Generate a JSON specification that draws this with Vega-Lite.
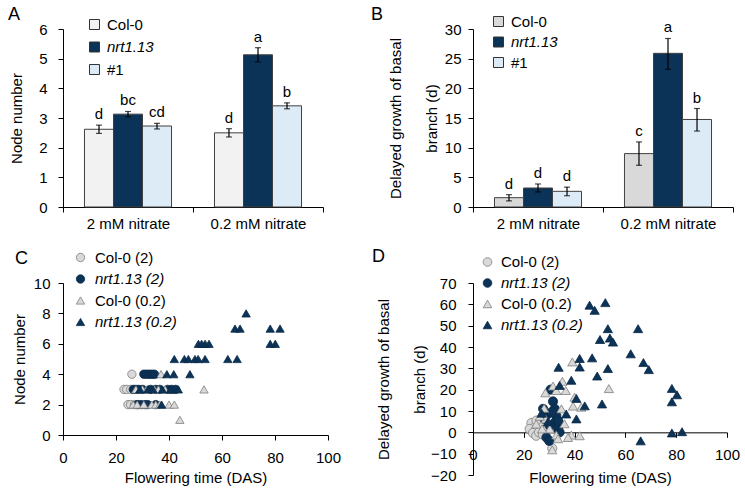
{
  "$schema": "https://vega.github.io/schema/vega-lite/v6.json",
  "background": "white",
  "padding": {"left": 8, "top": 5, "right": 5, "bottom": 20},
  "columns": 2,
  "bounds": "flush",
  "align": "each",
  "spacing": {"row": 76, "column": 145},
  "config": {
    "font": "Liberation Sans",
    "view": {"stroke": null},
    "axis": {"labelFont": "Liberation Sans", "labelFontSize": 15, "labelColor": "#000", "titleFont": "Liberation Sans", "titleFontSize": 15, "titleFontWeight": "normal", "titleColor": "#000", "domainColor": "#000", "tickColor": "#000", "grid": false, "tickSize": 5, "labelOverlap": false, "labelFlush": false},
    "legend": {"labelFont": "Liberation Sans", "labelFontSize": 15, "labelColor": "#000", "padding": 0},
    "title": {"font": "Liberation Sans", "fontSize": 18, "fontWeight": "normal", "anchor": "start", "frame": "group", "color": "#000", "baseline": "alphabetic"}
  },
  "datasets": {
    "barsA": [
      {"cond": "2 mM nitrate", "geno": "Col-0", "mean": 2.62, "lo": 2.48, "hi": 2.76, "letter": "d"},
      {"cond": "2 mM nitrate", "geno": "nrt1.13", "mean": 3.13, "lo": 3.04, "hi": 3.22, "letter": "bc"},
      {"cond": "2 mM nitrate", "geno": "#1", "mean": 2.73, "lo": 2.63, "hi": 2.82, "letter": "cd"},
      {"cond": "0.2 mM nitrate", "geno": "Col-0", "mean": 2.5, "lo": 2.36, "hi": 2.64, "letter": "d"},
      {"cond": "0.2 mM nitrate", "geno": "nrt1.13", "mean": 5.13, "lo": 4.89, "hi": 5.37, "letter": "a"},
      {"cond": "0.2 mM nitrate", "geno": "#1", "mean": 3.41, "lo": 3.31, "hi": 3.51, "letter": "b"}
    ],
    "barsB": [
      {"cond": "2 mM nitrate", "geno": "Col-0", "mean": 1.57, "lo": 1.03, "hi": 2.08, "letter": "d"},
      {"cond": "2 mM nitrate", "geno": "nrt1.13", "mean": 3.2, "lo": 2.53, "hi": 3.88, "letter": "d"},
      {"cond": "2 mM nitrate", "geno": "#1", "mean": 2.64, "lo": 1.9, "hi": 3.35, "letter": "d"},
      {"cond": "0.2 mM nitrate", "geno": "Col-0", "mean": 9.0, "lo": 7.03, "hi": 10.97, "letter": "c"},
      {"cond": "0.2 mM nitrate", "geno": "nrt1.13", "mean": 25.9, "lo": 23.2, "hi": 28.4, "letter": "a"},
      {"cond": "0.2 mM nitrate", "geno": "#1", "mean": 14.75, "lo": 12.8, "hi": 16.6, "letter": "b"}
    ],
    "scC": [
      {"ft": 26, "v": 4, "group": "Col-0 (2)"},
      {"ft": 23, "v": 3, "group": "Col-0 (2)"},
      {"ft": 24, "v": 3, "group": "Col-0 (2)"},
      {"ft": 25.5, "v": 3, "group": "Col-0 (2)"},
      {"ft": 24.5, "v": 2, "group": "Col-0 (2)"},
      {"ft": 25.5, "v": 2, "group": "Col-0 (2)"},
      {"ft": 27, "v": 2, "group": "Col-0 (2)"},
      {"ft": 28.5, "v": 2, "group": "Col-0 (2)"},
      {"ft": 30.5, "v": 4, "group": "nrt1.13 (2)"},
      {"ft": 31.5, "v": 4, "group": "nrt1.13 (2)"},
      {"ft": 32.5, "v": 4, "group": "nrt1.13 (2)"},
      {"ft": 33.5, "v": 4, "group": "nrt1.13 (2)"},
      {"ft": 34.5, "v": 4, "group": "nrt1.13 (2)"},
      {"ft": 26.5, "v": 3, "group": "nrt1.13 (2)"},
      {"ft": 27.5, "v": 3, "group": "nrt1.13 (2)"},
      {"ft": 28.5, "v": 3, "group": "nrt1.13 (2)"},
      {"ft": 30, "v": 3, "group": "nrt1.13 (2)"},
      {"ft": 33, "v": 3, "group": "nrt1.13 (2)"},
      {"ft": 35, "v": 3, "group": "nrt1.13 (2)"},
      {"ft": 36.5, "v": 3, "group": "nrt1.13 (2)"},
      {"ft": 39.5, "v": 3, "group": "nrt1.13 (2)"},
      {"ft": 41, "v": 3, "group": "nrt1.13 (2)"},
      {"ft": 42.5, "v": 3, "group": "nrt1.13 (2)"},
      {"ft": 28, "v": 2, "group": "nrt1.13 (2)"},
      {"ft": 29.5, "v": 2, "group": "nrt1.13 (2)"},
      {"ft": 31, "v": 2, "group": "nrt1.13 (2)"},
      {"ft": 32, "v": 2, "group": "nrt1.13 (2)"},
      {"ft": 35, "v": 2, "group": "nrt1.13 (2)"},
      {"ft": 37, "v": 4, "group": "Col-0 (0.2)"},
      {"ft": 27.5, "v": 3, "group": "Col-0 (0.2)"},
      {"ft": 30, "v": 3, "group": "Col-0 (0.2)"},
      {"ft": 31.5, "v": 3, "group": "Col-0 (0.2)"},
      {"ft": 34.5, "v": 3, "group": "Col-0 (0.2)"},
      {"ft": 36, "v": 3, "group": "Col-0 (0.2)"},
      {"ft": 38.5, "v": 3, "group": "Col-0 (0.2)"},
      {"ft": 53.2, "v": 3, "group": "Col-0 (0.2)"},
      {"ft": 26.5, "v": 2, "group": "Col-0 (0.2)"},
      {"ft": 28, "v": 2, "group": "Col-0 (0.2)"},
      {"ft": 30.5, "v": 2, "group": "Col-0 (0.2)"},
      {"ft": 33.5, "v": 2, "group": "Col-0 (0.2)"},
      {"ft": 35, "v": 2, "group": "Col-0 (0.2)"},
      {"ft": 36.5, "v": 2, "group": "Col-0 (0.2)"},
      {"ft": 40, "v": 2, "group": "Col-0 (0.2)"},
      {"ft": 42, "v": 2, "group": "Col-0 (0.2)"},
      {"ft": 44.1, "v": 1, "group": "Col-0 (0.2)"},
      {"ft": 34, "v": 4, "group": "nrt1.13 (0.2)"},
      {"ft": 39.2, "v": 4, "group": "nrt1.13 (0.2)"},
      {"ft": 41.8, "v": 4, "group": "nrt1.13 (0.2)"},
      {"ft": 47.9, "v": 4, "group": "nrt1.13 (0.2)"},
      {"ft": 29, "v": 3, "group": "nrt1.13 (0.2)"},
      {"ft": 32, "v": 3, "group": "nrt1.13 (0.2)"},
      {"ft": 34, "v": 3, "group": "nrt1.13 (0.2)"},
      {"ft": 37.5, "v": 3, "group": "nrt1.13 (0.2)"},
      {"ft": 40.5, "v": 3, "group": "nrt1.13 (0.2)"},
      {"ft": 43.5, "v": 3, "group": "nrt1.13 (0.2)"},
      {"ft": 37.2, "v": 2, "group": "nrt1.13 (0.2)"},
      {"ft": 42, "v": 5, "group": "nrt1.13 (0.2)"},
      {"ft": 45.8, "v": 5, "group": "nrt1.13 (0.2)"},
      {"ft": 47.3, "v": 5, "group": "nrt1.13 (0.2)"},
      {"ft": 49.8, "v": 5, "group": "nrt1.13 (0.2)"},
      {"ft": 51, "v": 5, "group": "nrt1.13 (0.2)"},
      {"ft": 53.6, "v": 5, "group": "nrt1.13 (0.2)"},
      {"ft": 62.2, "v": 5, "group": "nrt1.13 (0.2)"},
      {"ft": 65.7, "v": 5, "group": "nrt1.13 (0.2)"},
      {"ft": 51.1, "v": 6, "group": "nrt1.13 (0.2)"},
      {"ft": 52.3, "v": 6, "group": "nrt1.13 (0.2)"},
      {"ft": 53.6, "v": 6, "group": "nrt1.13 (0.2)"},
      {"ft": 55.1, "v": 6, "group": "nrt1.13 (0.2)"},
      {"ft": 78.2, "v": 6, "group": "nrt1.13 (0.2)"},
      {"ft": 80.1, "v": 6, "group": "nrt1.13 (0.2)"},
      {"ft": 64.9, "v": 7, "group": "nrt1.13 (0.2)"},
      {"ft": 66.8, "v": 7, "group": "nrt1.13 (0.2)"},
      {"ft": 78.2, "v": 7, "group": "nrt1.13 (0.2)"},
      {"ft": 81.9, "v": 7, "group": "nrt1.13 (0.2)"},
      {"ft": 69.1, "v": 8, "group": "nrt1.13 (0.2)"}
    ],
    "scD": [
      {"ft": 23, "v": 4.4, "group": "Col-0 (2)"},
      {"ft": 24.3, "v": 2.4, "group": "Col-0 (2)"},
      {"ft": 22.3, "v": 1.6, "group": "Col-0 (2)"},
      {"ft": 25.6, "v": 0.8, "group": "Col-0 (2)"},
      {"ft": 23.6, "v": -0.3, "group": "Col-0 (2)"},
      {"ft": 26.9, "v": 3.1, "group": "Col-0 (2)"},
      {"ft": 28.6, "v": 0.8, "group": "Col-0 (2)"},
      {"ft": 31.2, "v": -7.5, "group": "Col-0 (2)"},
      {"ft": 24.9, "v": -1.6, "group": "Col-0 (2)"},
      {"ft": 26, "v": 0, "group": "Col-0 (2)"},
      {"ft": 27.5, "v": -1, "group": "Col-0 (2)"},
      {"ft": 25, "v": 5.5, "group": "Col-0 (2)"},
      {"ft": 30.5, "v": 20, "group": "nrt1.13 (2)"},
      {"ft": 31.5, "v": 14.5, "group": "nrt1.13 (2)"},
      {"ft": 32.2, "v": 11, "group": "nrt1.13 (2)"},
      {"ft": 27.6, "v": 11, "group": "nrt1.13 (2)"},
      {"ft": 29.5, "v": 8.6, "group": "nrt1.13 (2)"},
      {"ft": 32.8, "v": 7.8, "group": "nrt1.13 (2)"},
      {"ft": 28.2, "v": 6.3, "group": "nrt1.13 (2)"},
      {"ft": 32.2, "v": 4.7, "group": "nrt1.13 (2)"},
      {"ft": 34.1, "v": 3.9, "group": "nrt1.13 (2)"},
      {"ft": 30.2, "v": 3.1, "group": "nrt1.13 (2)"},
      {"ft": 33.5, "v": 1.6, "group": "nrt1.13 (2)"},
      {"ft": 34.1, "v": 0, "group": "nrt1.13 (2)"},
      {"ft": 28.9, "v": -2.4, "group": "nrt1.13 (2)"},
      {"ft": 30, "v": -4, "group": "nrt1.13 (2)"},
      {"ft": 31, "v": 9.5, "group": "nrt1.13 (2)"},
      {"ft": 33.5, "v": 5.5, "group": "nrt1.13 (2)"},
      {"ft": 39.1, "v": 33, "group": "Col-0 (0.2)"},
      {"ft": 35.2, "v": 23.9, "group": "Col-0 (0.2)"},
      {"ft": 31.5, "v": 21.7, "group": "Col-0 (0.2)"},
      {"ft": 32.8, "v": 19.6, "group": "Col-0 (0.2)"},
      {"ft": 36.5, "v": 19.6, "group": "Col-0 (0.2)"},
      {"ft": 28.5, "v": 18.5, "group": "Col-0 (0.2)"},
      {"ft": 40, "v": 16.5, "group": "Col-0 (0.2)"},
      {"ft": 39.4, "v": 12.3, "group": "Col-0 (0.2)"},
      {"ft": 42.6, "v": 11.8, "group": "Col-0 (0.2)"},
      {"ft": 34.8, "v": 11, "group": "Col-0 (0.2)"},
      {"ft": 28, "v": 11.3, "group": "Col-0 (0.2)"},
      {"ft": 28.6, "v": 6.3, "group": "Col-0 (0.2)"},
      {"ft": 26.3, "v": 7.5, "group": "Col-0 (0.2)"},
      {"ft": 24.9, "v": 3.9, "group": "Col-0 (0.2)"},
      {"ft": 38.7, "v": -1.3, "group": "Col-0 (0.2)"},
      {"ft": 42, "v": -1.6, "group": "Col-0 (0.2)"},
      {"ft": 37.4, "v": -2.4, "group": "Col-0 (0.2)"},
      {"ft": 32.8, "v": -1.3, "group": "Col-0 (0.2)"},
      {"ft": 30.2, "v": 1.6, "group": "Col-0 (0.2)"},
      {"ft": 27.2, "v": 1.6, "group": "Col-0 (0.2)"},
      {"ft": 31.2, "v": -8.2, "group": "Col-0 (0.2)"},
      {"ft": 53.5, "v": 20.5, "group": "Col-0 (0.2)"},
      {"ft": 36, "v": 4, "group": "Col-0 (0.2)"},
      {"ft": 33.5, "v": -3, "group": "Col-0 (0.2)"},
      {"ft": 45.9, "v": 59.6, "group": "nrt1.13 (0.2)"},
      {"ft": 47.9, "v": 57.2, "group": "nrt1.13 (0.2)"},
      {"ft": 52.1, "v": 60.8, "group": "nrt1.13 (0.2)"},
      {"ft": 53.1, "v": 48.6, "group": "nrt1.13 (0.2)"},
      {"ft": 65, "v": 48.6, "group": "nrt1.13 (0.2)"},
      {"ft": 50, "v": 43.5, "group": "nrt1.13 (0.2)"},
      {"ft": 53.9, "v": 44.2, "group": "nrt1.13 (0.2)"},
      {"ft": 55.1, "v": 42.3, "group": "nrt1.13 (0.2)"},
      {"ft": 62.1, "v": 36.8, "group": "nrt1.13 (0.2)"},
      {"ft": 67.1, "v": 32.7, "group": "nrt1.13 (0.2)"},
      {"ft": 69.2, "v": 29.4, "group": "nrt1.13 (0.2)"},
      {"ft": 42, "v": 34.6, "group": "nrt1.13 (0.2)"},
      {"ft": 46.9, "v": 34.9, "group": "nrt1.13 (0.2)"},
      {"ft": 42, "v": 30.6, "group": "nrt1.13 (0.2)"},
      {"ft": 53.1, "v": 29.9, "group": "nrt1.13 (0.2)"},
      {"ft": 48.9, "v": 26.4, "group": "nrt1.13 (0.2)"},
      {"ft": 78.3, "v": 20.6, "group": "nrt1.13 (0.2)"},
      {"ft": 80.3, "v": 17.6, "group": "nrt1.13 (0.2)"},
      {"ft": 78.3, "v": 14.3, "group": "nrt1.13 (0.2)"},
      {"ft": 50.8, "v": 13.3, "group": "nrt1.13 (0.2)"},
      {"ft": 44, "v": 12.4, "group": "nrt1.13 (0.2)"},
      {"ft": 78.3, "v": -0.3, "group": "nrt1.13 (0.2)"},
      {"ft": 82.3, "v": 0.3, "group": "nrt1.13 (0.2)"},
      {"ft": 66, "v": -4, "group": "nrt1.13 (0.2)"},
      {"ft": 33.7, "v": 30.5, "group": "nrt1.13 (0.2)"},
      {"ft": 38.7, "v": 24.4, "group": "nrt1.13 (0.2)"},
      {"ft": 34.1, "v": 22, "group": "nrt1.13 (0.2)"},
      {"ft": 40.7, "v": 15.9, "group": "nrt1.13 (0.2)"},
      {"ft": 36.7, "v": 8.6, "group": "nrt1.13 (0.2)"},
      {"ft": 40.7, "v": 6.3, "group": "nrt1.13 (0.2)"},
      {"ft": 27, "v": 9, "group": "nrt1.13 (0.2)"},
      {"ft": 29.5, "v": 5, "group": "nrt1.13 (0.2)"}
    ]
  },
  "concat": [
    {
      "width": 260, "height": 178,
      "title": {"text": "A", "dx": -55, "offset": -6.7},
      "data": {"name": "barsA"},
      "encoding": {
        "x": {"field": "cond", "type": "nominal", "sort": ["2 mM nitrate", "0.2 mM nitrate"], "scale": {"paddingInner": 0, "paddingOuter": 0}, "axis": {"title": null, "labelAngle": 0, "tickBand": "extent", "labelPadding": 4}},
        "xOffset": {"field": "geno", "type": "nominal", "sort": ["Col-0", "nrt1.13", "#1"], "scale": {"paddingInner": 0, "paddingOuter": 0.74}}
      },
      "layer": [
        {"mark": {"type": "bar", "stroke": "#404040", "strokeWidth": 1},
         "encoding": {
           "y": {"field": "mean", "type": "quantitative", "title": "Node number", "scale": {"domain": [0, 6]}, "axis": {"values": [0, 1, 2, 3, 4, 5, 6], "labelPadding": 11, "titlePadding": 14}},
           "color": {"field": "geno", "type": "nominal", "scale": {"domain": ["Col-0", "nrt1.13", "#1"], "range": ["#f2f2f2", "#0b3357", "#ddebf7"]},
             "legend": {"orient": "none", "legendX": 24, "legendY": -12, "title": null, "symbolType": "square", "symbolSize": 100, "symbolStrokeColor": "#333", "symbolStrokeWidth": 1, "rowPadding": 6.5, "labelOffset": 5,
               "encode": {"labels": {"update": {"fontStyle": {"signal": "datum.label === 'nrt1.13' ? 'italic' : 'normal'"}}}}}}
         }},
        {"mark": {"type": "rule", "color": "#000", "strokeWidth": 1.2},
         "encoding": {"y": {"field": "lo", "type": "quantitative", "title": "Node number", "scale": {"domain": [0, 6]}, "axis": {"values": [0, 1, 2, 3, 4, 5, 6], "labelPadding": 11, "titlePadding": 14}}, "y2": {"field": "hi"}}},
        {"mark": {"type": "tick", "color": "#000", "size": 6, "thickness": 1.2},
         "encoding": {"y": {"field": "lo", "type": "quantitative", "title": "Node number", "scale": {"domain": [0, 6]}, "axis": {"values": [0, 1, 2, 3, 4, 5, 6], "labelPadding": 11, "titlePadding": 14}}}},
        {"mark": {"type": "tick", "color": "#000", "size": 6, "thickness": 1.2},
         "encoding": {"y": {"field": "hi", "type": "quantitative", "title": "Node number", "scale": {"domain": [0, 6]}, "axis": {"values": [0, 1, 2, 3, 4, 5, 6], "labelPadding": 11, "titlePadding": 14}}}},
        {"mark": {"type": "text", "fontSize": 15, "dy": -6, "baseline": "alphabetic", "font": "Liberation Sans"},
         "encoding": {"y": {"field": "hi", "type": "quantitative", "title": "Node number", "scale": {"domain": [0, 6]}, "axis": {"values": [0, 1, 2, 3, 4, 5, 6], "labelPadding": 11, "titlePadding": 14}}, "text": {"field": "letter"}}}
      ]
    },
    {
      "width": 260, "height": 178,
      "title": {"text": "B", "dx": -102, "offset": -9.7},
      "data": {"name": "barsB"},
      "encoding": {
        "x": {"field": "cond", "type": "nominal", "sort": ["2 mM nitrate", "0.2 mM nitrate"], "scale": {"paddingInner": 0, "paddingOuter": 0}, "axis": {"title": null, "labelAngle": 0, "tickBand": "extent", "labelPadding": 4}},
        "xOffset": {"field": "geno", "type": "nominal", "sort": ["Col-0", "nrt1.13", "#1"], "scale": {"paddingInner": 0, "paddingOuter": 0.74}}
      },
      "layer": [
        {"mark": {"type": "bar", "stroke": "#404040", "strokeWidth": 1},
         "encoding": {
           "y": {"field": "mean", "type": "quantitative", "title": ["Delayed growth of basal", "branch (d)"], "scale": {"domain": [0, 30]}, "axis": {"values": [0, 5, 10, 15, 20, 25, 30], "labelPadding": 7, "titlePadding": 5, "titleLineHeight": 36}},
           "color": {"field": "geno", "type": "nominal", "scale": {"domain": ["Col-0", "nrt1.13", "#1"], "range": ["#d9d9d9", "#0b3357", "#ddebf7"]},
             "legend": {"orient": "none", "legendX": 18, "legendY": -15, "title": null, "symbolType": "square", "symbolSize": 100, "symbolStrokeColor": "#333", "symbolStrokeWidth": 1, "rowPadding": 4.5, "labelOffset": 5,
               "encode": {"labels": {"update": {"fontStyle": {"signal": "datum.label === 'nrt1.13' ? 'italic' : 'normal'"}}}}}}
         }},
        {"mark": {"type": "rule", "color": "#000", "strokeWidth": 1.2},
         "encoding": {"y": {"field": "lo", "type": "quantitative", "title": ["Delayed growth of basal", "branch (d)"], "scale": {"domain": [0, 30]}, "axis": {"values": [0, 5, 10, 15, 20, 25, 30], "labelPadding": 7, "titlePadding": 5, "titleLineHeight": 36}}, "y2": {"field": "hi"}}},
        {"mark": {"type": "tick", "color": "#000", "size": 6, "thickness": 1.2},
         "encoding": {"y": {"field": "lo", "type": "quantitative", "title": ["Delayed growth of basal", "branch (d)"], "scale": {"domain": [0, 30]}, "axis": {"values": [0, 5, 10, 15, 20, 25, 30], "labelPadding": 7, "titlePadding": 5, "titleLineHeight": 36}}}},
        {"mark": {"type": "tick", "color": "#000", "size": 6, "thickness": 1.2},
         "encoding": {"y": {"field": "hi", "type": "quantitative", "title": ["Delayed growth of basal", "branch (d)"], "scale": {"domain": [0, 30]}, "axis": {"values": [0, 5, 10, 15, 20, 25, 30], "labelPadding": 7, "titlePadding": 5, "titleLineHeight": 36}}}},
        {"mark": {"type": "text", "fontSize": 15, "dy": -6, "baseline": "alphabetic", "font": "Liberation Sans"},
         "encoding": {"y": {"field": "hi", "type": "quantitative", "title": ["Delayed growth of basal", "branch (d)"], "scale": {"domain": [0, 30]}, "axis": {"values": [0, 5, 10, 15, 20, 25, 30], "labelPadding": 7, "titlePadding": 5, "titleLineHeight": 36}}, "text": {"field": "letter"}}}
      ]
    },
    {
      "width": 265, "height": 152,
      "title": {"text": "C", "dx": -48, "offset": -18},
      "data": {"name": "scC"},
      "mark": {"type": "point", "filled": true, "size": 70, "strokeWidth": 0.8, "opacity": 1},
      "encoding": {
        "x": {"field": "ft", "type": "quantitative", "title": "Flowering time (DAS)", "scale": {"domain": [0, 100]}, "axis": {"values": [0, 20, 40, 60, 80, 100], "labelPadding": 10, "titlePadding": 5}},
        "y": {"field": "v", "type": "quantitative", "title": "Node number", "scale": {"domain": [0, 10]}, "axis": {"values": [0, 2, 4, 6, 8, 10], "labelPadding": 8, "titlePadding": 6}},
        "color": {"field": "group", "type": "nominal", "scale": {"domain": ["Col-0 (2)", "nrt1.13 (2)", "Col-0 (0.2)", "nrt1.13 (0.2)"], "range": ["#d9d9d9", "#0b3357", "#d9d9d9", "#0b3357"]},
          "legend": {"orient": "none", "legendX": 10, "legendY": -33, "title": null, "symbolSize": 70, "symbolStrokeWidth": 0.8, "rowPadding": 5.5, "labelOffset": 7, "labelFontStyle": {"expr": "indexof(datum.label, 'nrt') === 0 ? 'italic' : 'normal'"}}},
        "stroke": {"field": "group", "type": "nominal", "scale": {"domain": ["Col-0 (2)", "nrt1.13 (2)", "Col-0 (0.2)", "nrt1.13 (0.2)"], "range": ["#7f7f7f", "#0a2a48", "#7f7f7f", "#0a2a48"]},
          "legend": {"orient": "none", "legendX": 10, "legendY": -33, "title": null, "symbolSize": 70, "symbolStrokeWidth": 0.8, "rowPadding": 5.5, "labelOffset": 7, "labelFontStyle": {"expr": "indexof(datum.label, 'nrt') === 0 ? 'italic' : 'normal'"}}},
        "shape": {"field": "group", "type": "nominal", "scale": {"domain": ["Col-0 (2)", "nrt1.13 (2)", "Col-0 (0.2)", "nrt1.13 (0.2)"], "range": ["circle", "circle", "triangle-up", "triangle-up"]},
          "legend": {"orient": "none", "legendX": 10, "legendY": -33, "title": null, "symbolSize": 70, "symbolStrokeWidth": 0.8, "rowPadding": 5.5, "labelOffset": 7, "labelFontStyle": {"expr": "indexof(datum.label, 'nrt') === 0 ? 'italic' : 'normal'"}}}
      }
    },
    {
      "width": 254, "height": 192,
      "title": {"text": "D", "dx": -101, "offset": 0, "dy": 11.5},
      "data": {"name": "scD"},
      "mark": {"type": "point", "filled": true, "size": 85, "strokeWidth": 0.8, "opacity": 1},
      "encoding": {
        "x": {"field": "ft", "type": "quantitative", "title": "Flowering time (DAS)", "scale": {"domain": [0, 100]}, "axis": {"values": [0, 20, 40, 60, 80, 100], "offset": -42.67, "labelPadding": 10, "titlePadding": 8}},
        "y": {"field": "v", "type": "quantitative", "title": ["Delayed growth of basal", "branch (d)"], "scale": {"domain": [-20, 70], "nice": false, "zero": false}, "axis": {"values": [-20, -10, 0, 10, 20, 30, 40, 50, 60, 70], "labelPadding": 12, "titlePadding": 3, "titleLineHeight": 36, "labelOverlap": false, "labelFlush": false, "labelBound": false}},
        "color": {"field": "group", "type": "nominal", "scale": {"domain": ["Col-0 (2)", "nrt1.13 (2)", "Col-0 (0.2)", "nrt1.13 (0.2)"], "range": ["#d9d9d9", "#0b3357", "#d9d9d9", "#0b3357"]},
          "legend": {"orient": "none", "legendX": 7, "legendY": -28.5, "title": null, "symbolSize": 75, "symbolStrokeWidth": 0.8, "rowPadding": 5, "labelOffset": 6, "labelFontStyle": {"expr": "indexof(datum.label, 'nrt') === 0 ? 'italic' : 'normal'"}}},
        "stroke": {"field": "group", "type": "nominal", "scale": {"domain": ["Col-0 (2)", "nrt1.13 (2)", "Col-0 (0.2)", "nrt1.13 (0.2)"], "range": ["#7f7f7f", "#0a2a48", "#7f7f7f", "#0a2a48"]},
          "legend": {"orient": "none", "legendX": 7, "legendY": -28.5, "title": null, "symbolSize": 75, "symbolStrokeWidth": 0.8, "rowPadding": 5, "labelOffset": 6, "labelFontStyle": {"expr": "indexof(datum.label, 'nrt') === 0 ? 'italic' : 'normal'"}}},
        "shape": {"field": "group", "type": "nominal", "scale": {"domain": ["Col-0 (2)", "nrt1.13 (2)", "Col-0 (0.2)", "nrt1.13 (0.2)"], "range": ["circle", "circle", "triangle-up", "triangle-up"]},
          "legend": {"orient": "none", "legendX": 7, "legendY": -28.5, "title": null, "symbolSize": 75, "symbolStrokeWidth": 0.8, "rowPadding": 5, "labelOffset": 6, "labelFontStyle": {"expr": "indexof(datum.label, 'nrt') === 0 ? 'italic' : 'normal'"}}}
      }
    }
  ],
  "resolve": {"scale": {"color": "independent", "stroke": "independent", "shape": "independent"}, "legend": {"color": "independent", "stroke": "independent", "shape": "independent"}}
}
